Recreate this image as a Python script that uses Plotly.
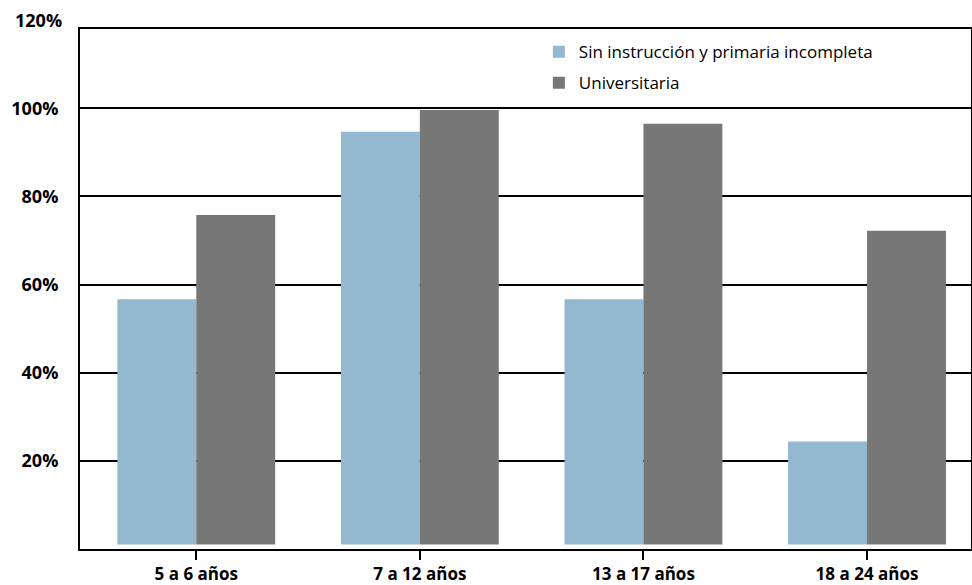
import plotly.graph_objects as go

# Age groups and share of each group, by head-of-household education level (%)
categories = ["5 a 6 años", "7 a 12 años", "13 a 17 años", "18 a 24 años"]
sin_instruccion = [56.7, 94.7, 56.7, 24.4]
universitaria = [75.8, 99.6, 96.5, 72.2]
series_names = ["Sin instrucción y primaria incompleta", "Universitaria"]

y_ticks = [20, 40, 60, 80, 100]
top_label = 120

BAR_BASE = 1.0          # bars sit slightly above the zero line
Y_RANGE = [0, 118]
X_RANGE = [-0.52, 3.465]

LIGHT = "#93b8cf"
DARK = "#777777"
FONT = "Open Sans"
TICK_SIZE = 18

xs = list(range(len(categories)))

fig = go.Figure()
for name, vals, color in [(series_names[0], sin_instruccion, LIGHT),
                          (series_names[1], universitaria, DARK)]:
    fig.add_trace(go.Bar(
        x=xs, y=[v - BAR_BASE for v in vals], base=BAR_BASE,
        name=name, legendgroup=name,
        marker=dict(color=color, line=dict(width=0)),
    ))

fig.update_layout(
    width=972, height=585,
    margin=dict(l=80, r=1, t=29, b=36),
    paper_bgcolor="white", plot_bgcolor="white",
    barmode="group", bargap=0.294, bargroupgap=0,
    font=dict(family=FONT, color="black"),
    showlegend=True,
    legend=dict(x=0.515, y=0.99, xanchor="left", yanchor="top",
                bgcolor="rgba(0,0,0,0)", font=dict(size=17, family=FONT),
                traceorder="grouped", tracegroupgap=6, itemwidth=30),
    xaxis=dict(
        range=X_RANGE, tickmode="array", tickvals=xs, ticktext=categories,
        showline=True, linecolor="black", linewidth=2, mirror=True,
        ticks="outside", ticklen=9, tickwidth=2, tickcolor="black",
        showgrid=False, zeroline=False, automargin=False,
        ticklabelstandoff=0,
        tickfont=dict(size=17, family=FONT, weight="bold"),
    ),
    yaxis=dict(
        range=Y_RANGE, tickmode="array", tickvals=y_ticks,
        ticktext=[f"{v}%" for v in y_ticks],
        showline=True, linecolor="black", linewidth=2, mirror=True,
        showgrid=True, gridcolor="black", gridwidth=2,
        zeroline=False, ticks="", ticklabelstandoff=16, automargin=False,
        tickfont=dict(size=TICK_SIZE, family=FONT, weight="bold"),
    ),
)

# The 120% label sits just above the framed plot area
fig.add_annotation(
    x=0, xref="paper", xanchor="right", xshift=-16,
    y=top_label / Y_RANGE[1], yref="paper", yanchor="middle",
    text=f"{top_label}%", showarrow=False,
    font=dict(size=TICK_SIZE, family=FONT, weight="bold"),
)

fig.write_html("out.html")
